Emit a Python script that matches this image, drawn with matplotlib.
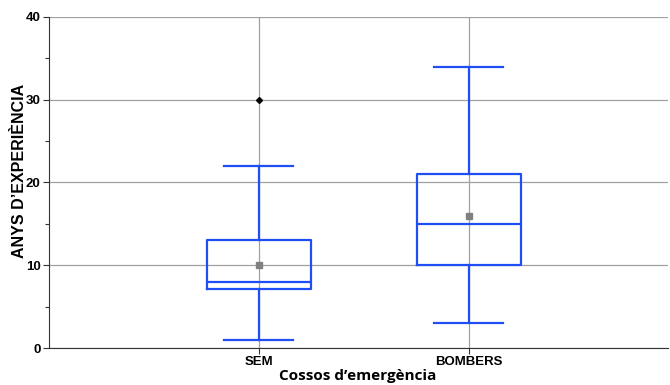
import matplotlib
matplotlib.use("Agg")
from matplotlib import pyplot as plt
from matplotlib.ticker import MultipleLocator

# dades llegides del gràfic
grups = ["SEM", "BOMBERS"]
minims = [1, 3]
q1 = [7.1, 10]
medianes = [8, 15]
q3 = [13, 21]
maxims = [22, 34]
mitjanes = [10, 16]
atipics = [[30], []]

stats = []
for i in range(len(grups)):
    stats.append({
        "label": grups[i],
        "whislo": minims[i], "q1": q1[i], "med": medianes[i],
        "q3": q3[i], "whishi": maxims[i], "mean": mitjanes[i],
        "fliers": atipics[i],
    })

blau = "#1f4ef5"
fig = plt.figure(figsize=(6.7, 3.85), dpi=100)
ax = fig.add_axes([0.073, 0.096, 0.924, 0.86])

ax.bxp(stats, positions=[1, 2], widths=0.495, showmeans=True, patch_artist=False,
       boxprops=dict(color=blau, linewidth=1.6),
       whiskerprops=dict(color=blau, linewidth=1.6),
       capprops=dict(color=blau, linewidth=1.6),
       medianprops=dict(color=blau, linewidth=1.6),
       meanprops=dict(marker="s", markerfacecolor="#808080", markeredgecolor="#808080", markersize=4),
       flierprops=dict(marker="D", markerfacecolor="black", markeredgecolor="black", markersize=3),
       capwidths=0.33, zorder=3)

ax.set_xlim(0, 2.95)
ax.set_ylim(0, 40)
ax.yaxis.set_major_locator(MultipleLocator(10))
ax.yaxis.set_minor_locator(MultipleLocator(5))
ax.grid(True, which="major", color="#a0a0a0", linewidth=0.9, zorder=0)
ax.set_axisbelow(True)

for s in ["top", "right"]:
    ax.spines[s].set_visible(False)
ax.spines["left"].set_color("#333333")
ax.spines["bottom"].set_color("#333333")

ax.tick_params(axis="both", which="both", direction="out", length=4, width=0.8,
               colors="#333333", pad=2)
ax.tick_params(axis="y", which="minor", length=3)
for lab in ax.get_yticklabels() + ax.get_xticklabels():
    lab.set_fontweight("bold")
    lab.set_fontfamily("Liberation Sans")
    lab.set_fontsize(9.5)
    lab.set_color("black")

ax.set_ylabel("ANYS D’EXPERIÈNCIA", fontsize=11.5, fontweight="bold", family="Liberation Sans")
ax.yaxis.set_label_coords(-0.035, 0.535)
fig.text(358 / 670, 2 / 385, "Cossos d’emergència", fontsize=11, fontweight="bold",
         family="Open Sans", ha="center", va="bottom")

fig.savefig("out.png", dpi=100)
